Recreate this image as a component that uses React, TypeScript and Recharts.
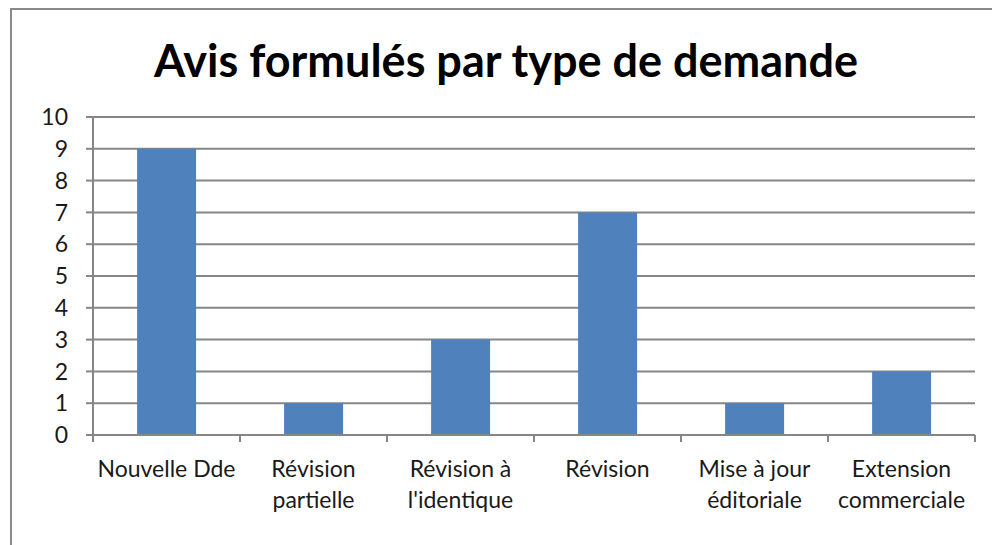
import { BarChart, Bar, XAxis, YAxis, CartesianGrid } from 'recharts';

const categories = [
  'Nouvelle Dde',
  'Révision\npartielle',
  "Révision à\nl'identique",
  'Révision',
  'Mise à jour\néditoriale',
  'Extension\ncommerciale',
];
const avis = [9, 1, 3, 7, 1, 2];
const yTicks = [0, 1, 2, 3, 4, 5, 6, 7, 8, 9, 10];

const data = categories.map((name, i) => ({ name, value: avis[i] }));

const FONT = 'Lato, "Open Sans", sans-serif';
const GRID = '#868686';
const INK = '#1a1a1a';

// category label + the small tick marks at the category boundaries
function CategoryTick(props: any) {
  const { x, y, payload, index, width, visibleTicksCount } = props;
  const half = payload.offset ?? width / visibleTicksCount / 2;
  const lines = String(payload.value).split('\n');
  const isLast = index === categories.length - 1;
  return (
    <g>
      <line x1={x - half} x2={x - half} y1={y} y2={y + 7} stroke={GRID} strokeWidth={2} />
      {isLast && <line x1={x + half} x2={x + half} y1={y} y2={y + 7} stroke={GRID} strokeWidth={2} />}
      <text x={x} y={y} textAnchor="middle" fill={INK} fontFamily={FONT} fontSize={23}>
        {lines.map((l, i) => (
          <tspan key={i} x={x} dy={i === 0 ? 42 : 31}>
            {l}
          </tspan>
        ))}
      </text>
    </g>
  );
}

export default function App() {
  return (
    <div style={{ position: 'absolute', left: 0, top: 0, width: 992, height: 545, background: '#fff', overflow: 'hidden' }}>
      <div
        style={{
          position: 'absolute',
          left: 10,
          top: 8,
          width: 1000,
          height: 600,
          borderLeft: '2px solid #8a8a8a',
          borderTop: '2px solid #8a8a8a',
        }}
      />
      <div
        style={{
          position: 'absolute',
          left: 0,
          width: 1012,
          top: 33,
          textAlign: 'center',
          fontFamily: FONT,
          fontWeight: 700,
          fontSize: 45,
          lineHeight: '54px',
          color: '#000',
        }}
      >
        Avis formulés par type de demande
      </div>
      <div style={{ position: 'absolute', left: 0, top: 0 }}>
        <BarChart
          width={992}
          height={545}
          data={data}
          margin={{ top: 117, right: 17, bottom: 50, left: 0 }}
          barCategoryGap="30%"
        >
          <CartesianGrid horizontal vertical={false} stroke={GRID} strokeWidth={2} />
          <XAxis
            dataKey="name"
            height={60}
            interval={0}
            tickLine={false}
            tickSize={0}
            tickMargin={0}
            axisLine={{ stroke: GRID, strokeWidth: 2 }}
            tick={<CategoryTick />}
          />
          <YAxis
            width={93}
            domain={[0, 10]}
            ticks={yTicks}
            interval={0}
            tickSize={7}
            tickMargin={18}
            axisLine={{ stroke: GRID, strokeWidth: 2 }}
            tickLine={{ stroke: GRID, strokeWidth: 2 }}
            tick={{ fill: INK, fontFamily: FONT, fontSize: 23 }}
          />
          <Bar dataKey="value" fill="#4F81BD" isAnimationActive={false} />
        </BarChart>
      </div>
    </div>
  );
}
